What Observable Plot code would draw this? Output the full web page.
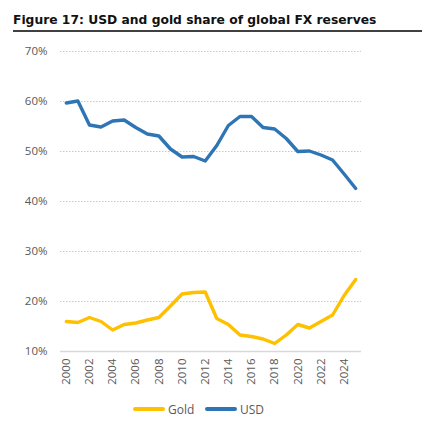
<!DOCTYPE html>
<html>
<head>
<meta charset="utf-8">
<script src="https://cdn.jsdelivr.net/npm/d3@7"></script>
<script src="https://cdn.jsdelivr.net/npm/@observablehq/plot@0.6"></script>
<style>
  html, body { margin: 0; padding: 0; background: #fff; }
  #wrap { width: 435px; height: 423px; position: relative; overflow: hidden; }
  #title { position: absolute; left: 13px; top: 13px; font-family: "DejaVu Sans", Verdana, sans-serif; font-weight: bold; font-size: 12.3px; color: #111; white-space: nowrap; }
  #rule { position: absolute; left: 13px; top: 30px; width: 409px; height: 2px; background: #404040; }
  #chart { position: absolute; left: 0; top: 35px; }
  #legend { position: absolute; left: 0; top: 400px; width: 435px; height: 18px; font-family: "Open Sans", "Noto Sans", sans-serif; font-size: 12px; color: #595959; }
  .item { position: absolute; top: 0; display: flex; align-items: center; height: 18px; }
  .sw { width: 32px; height: 4px; border-radius: 2px; margin-right: 3px; }
</style>
</head>
<body>
<div id="wrap">
  <div id="title">Figure 17: USD and gold share of global FX reserves</div>
  <div id="rule"></div>
  <div id="chart"></div>
  <div id="legend"></div>
</div>
<script>
const years = [2000,2001,2002,2003,2004,2005,2006,2007,2008,2009,2010,2011,2012,2013,2014,2015,2016,2017,2018,2019,2020,2021,2022,2023,2024,2025];
const usd  = [59.7,60.1,55.3,54.9,56.1,56.3,54.8,53.5,53.1,50.5,48.9,49.0,48.1,51.2,55.2,57.0,57.0,54.8,54.5,52.6,50.0,50.1,49.3,48.3,45.5,42.6];
const gold = [16.0,15.8,16.8,16.0,14.3,15.4,15.7,16.3,16.8,19.1,21.5,21.8,21.9,16.6,15.4,13.3,13.0,12.5,11.6,13.3,15.4,14.7,16.0,17.3,21.2,24.4];
const yTicks = [10,20,30,40,50,60,70];
const xTicks = [2000,2002,2004,2006,2008,2010,2012,2014,2016,2018,2020,2022,2024];
const seriesNames = ["Gold","USD"];
const seriesColors = ["#FFC000","#2E75B6"];

const rows = [];
years.forEach((yr, i) => {
  rows.push({year: yr, value: gold[i], series: "Gold"});
  rows.push({year: yr, value: usd[i], series: "USD"});
});

const chart = Plot.plot({
  width: 435,
  height: 360,
  marginTop: 16,
  marginBottom: 44,
  marginLeft: 60,
  marginRight: 74,
  style: {fontFamily: "'Open Sans', 'Noto Sans', sans-serif", fontSize: "11px", color: "#595959", background: "#fff"},
  x: {type: "linear", domain: [1999.5, 2025.5]},
  y: {domain: [10, 70]},
  color: {domain: seriesNames, range: seriesColors},
  marks: [
    Plot.ruleY(yTicks.filter(d => d > 10), {stroke: "#c8c8c8", strokeDasharray: "1.5,1.5", strokeWidth: 1}),
    Plot.ruleY([10], {stroke: "#d9d9d9", strokeWidth: 1.5}),
    Plot.axisY({ticks: yTicks, tickFormat: d => d + "%", tickSize: 0, tickPadding: 13, label: null, fontSize: 11.5}),
    Plot.axisX({ticks: xTicks, tickFormat: d => String(d), tickSize: 0, tickPadding: 7, tickRotate: -90, label: null, fontSize: 11.5}),
    Plot.line(rows, {x: "year", y: "value", z: "series", stroke: "series", strokeWidth: 3.4, curve: "linear"})
  ]
});
document.getElementById("chart").appendChild(chart);

const legend = document.getElementById("legend");
const lx = [133, 205];
seriesNames.forEach((name, i) => {
  const it = document.createElement("div");
  it.className = "item";
  it.style.left = lx[i] + "px";
  it.innerHTML = `<span class="sw" style="background:${seriesColors[i]}"></span><span>${name}</span>`;
  legend.appendChild(it);
});
</script>
</body>
</html>
